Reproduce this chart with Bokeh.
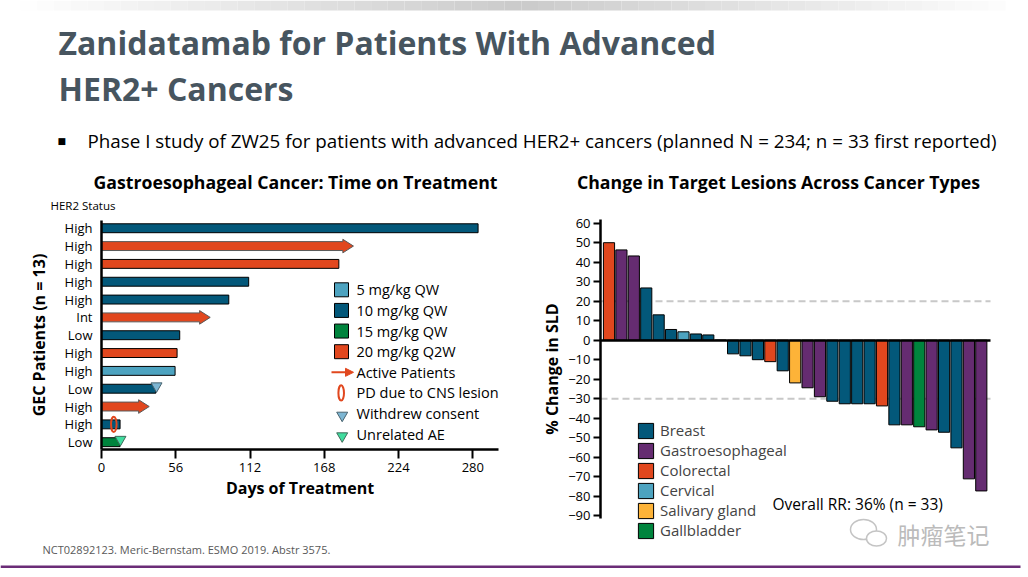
import numpy as np
from bokeh.plotting import figure
from bokeh.models import (Range1d, FixedTicker, Label, Legend, LegendItem,
                          Arrow, NormalHead, ColumnDataSource)
from bokeh.layouts import column, row
from bokeh.embed import file_html
from bokeh.resources import INLINE

FONT = "Open Sans"

# ---------------- data: GEC patients, time on treatment (top -> bottom) ----------------
her2_status = ["High", "High", "High", "High", "High", "Int", "Low",
               "High", "High", "Low", "High", "High", "Low"]
treatment_days = [284, 190, 179, 111, 96, 82, 59, 57, 55.5, 41, 36, 14, 14]
dose_group = ["10 mg/kg QW", "20 mg/kg Q2W", "20 mg/kg Q2W", "10 mg/kg QW", "10 mg/kg QW",
              "20 mg/kg Q2W", "10 mg/kg QW", "20 mg/kg Q2W", "5 mg/kg QW", "10 mg/kg QW",
              "20 mg/kg Q2W", "10 mg/kg QW", "15 mg/kg QW"]
active_patient = [False, True, False, False, False, True, False,
                  False, False, False, True, False, False]
event_kind = ["PD due to CNS lesion", "Withdrew consent", "Unrelated AE"]
event_patient = [11, 9, 12]
event_day = [9.3, 41.5, 14.3]
day_ticks = [0, 56, 112, 168, 224, 280]
dose_levels = ["5 mg/kg QW", "10 mg/kg QW", "15 mg/kg QW", "20 mg/kg Q2W"]

# ---------------- data: change in target lesions (waterfall) ----------------
sld_change = [50, 46.3, 43.2, 26.8, 13, 5.5, 4.3, 3.2, 2.7, 0,
              -7, -8, -10, -11, -15.7, -21.9, -24.4, -29, -31.3, -32.6, -32.6,
              -32.6, -33.7, -43.4, -43.4, -44.4, -46, -47.2, -55.2, -71.1, -77.3]
cancer_type = ["Colorectal", "Gastroesophageal", "Gastroesophageal", "Breast", "Breast",
               "Breast", "Cervical", "Breast", "Breast", "Breast",
               "Breast", "Breast", "Breast", "Colorectal", "Breast", "Salivary gland",
               "Gastroesophageal", "Gastroesophageal", "Breast", "Breast", "Breast",
               "Breast", "Colorectal", "Breast", "Gastroesophageal", "Gallbladder",
               "Gastroesophageal", "Breast", "Breast", "Gastroesophageal", "Gastroesophageal"]
cancer_types = ["Breast", "Gastroesophageal", "Colorectal", "Cervical", "Salivary gland", "Gallbladder"]
sld_ticks = list(range(-90, 61, 10))
sld_ref_levels = [20, -30]

# ---------------- styles ----------------
TEAL, PURPLE, ORANGE = "#03587A", "#652C71", "#E1471E"
LBLUE, YELLOW, GREEN = "#4DA3C0", "#FDB338", "#00843D"
dose_color = {"5 mg/kg QW": LBLUE, "10 mg/kg QW": TEAL, "15 mg/kg QW": GREEN, "20 mg/kg Q2W": ORANGE}
type_color = {"Breast": TEAL, "Gastroesophageal": PURPLE, "Colorectal": ORANGE,
              "Cervical": LBLUE, "Salivary gland": YELLOW, "Gallbladder": GREEN}
event_style = {"Withdrew consent": ("inverted_triangle", "#7DB6D3", "#4A6470"),
               "PD due to CNS lesion": ("ellipse", "none", ORANGE),
               "Unrelated AE": ("inverted_triangle", "#3FDC9E", "#3E6B5A")}
TITLE_COLOR = "#47555F"

# page geometry (pixel positions on the page) -> data mapping helpers
LX0, LPX = 101.0, 1.326     # left chart: pixel of day 0, px per day
LY0, LPY = 441.7, 17.83     # left chart: pixel of bottom row, px per row
RX0, RPX = 608.5, 12.41     # right chart: pixel of first bar, px per bar
RY0, RPY = 339.7, 1.95      # right chart: pixel of 0 %, px per %
TOP, MID, BOT, SPLIT, W = 214, 562, 577, 535, 1028


def lxd(sx): return (sx - LX0) / LPX
def lyd(sy): return (LY0 - sy) / LPY
def rxd(sx): return (sx - RX0) / RPX
def ryd(sy): return (RY0 - sy) / RPY


def lbl(p, x, y, text, size, color="black", style="normal", align="left", font=FONT):
    p.add_layout(Label(x=x, y=y, text=text, text_font=font, text_font_size=size,
                       text_color=color, text_font_style=style, text_align=align,
                       text_baseline="middle"))


def blank(width, height, xr, yr):
    f = figure(width=width, height=height, x_range=xr, y_range=yr, x_axis_type=None,
               y_axis_type=None, output_backend="svg", toolbar_location=None, min_border=0,
               outline_line_color=None)
    f.grid.visible = False
    return f


# ================= header (page pixels) =================
header = blank(W, TOP, Range1d(0, W), Range1d(TOP, 0))
gx = np.linspace(20, 1005, 60)
shade = np.clip(1 - np.abs((gx[:-1] + gx[1:]) / 2 - 520) / 500, 0, 1)
header.quad(left=gx[:-1], right=gx[1:], top=0, bottom=10,
            fill_color=["#%02x%02x%02x" % ((int(255 - 52 * s),) * 3) for s in shade], line_color=None)
lbl(header, 58, 42, "Zanidatamab for Patients With Advanced", "32px", TITLE_COLOR, "bold")
lbl(header, 58, 88, "HER2+ Cancers", "32px", TITLE_COLOR, "bold")
lbl(header, 57, 140, "\u25A0", "9px", "black", font="DejaVu Sans")
lbl(header, 87, 140, "Phase I study of ZW25 for patients with advanced HER2+ cancers "
                     "(planned N = 234; n = 33 first reported)", "18.8px", "black")
lbl(header, 295, 181, "Gastroesophageal Cancer: Time on Treatment", "17.7px", "black", "bold", "center")
lbl(header, 778, 181, "Change in Target Lesions Across Cancer Types", "17.7px", "black", "bold", "center")
lbl(header, 50, 205, "HER2 Status", "11.5px", "black")

# ================= left chart =================
n = len(treatment_days)
ypos = [n - 1 - i for i in range(n)]
lp = figure(width=SPLIT, height=MID - TOP, x_range=Range1d(lxd(0), lxd(SPLIT)),
            y_range=Range1d(lyd(MID), lyd(TOP)), output_backend="svg", toolbar_location=None,
            min_border=0, outline_line_color=None)
lp.grid.visible = False

BAR_H, HEAD_L, HEAD_H = 0.5, 8.0, 0.38
plain = [i for i in range(n) if not active_patient[i]]
lp.hbar(y=[ypos[i] for i in plain], left=0, right=[treatment_days[i] for i in plain], height=BAR_H,
        fill_color=[dose_color[dose_group[i]] for i in plain], line_color="black", line_width=1)
axs, ays, acol = [], [], []
for i in range(n):
    if active_patient[i]:
        d, y = treatment_days[i], ypos[i]
        be = d - HEAD_L
        axs.append([0, be, be, d, be, be, 0])
        ays.append([y - BAR_H / 2, y - BAR_H / 2, y - HEAD_H, y, y + HEAD_H, y + BAR_H / 2, y + BAR_H / 2])
        acol.append(dose_color[dose_group[i]])
lp.patches(axs, ays, fill_color=acol, line_color="#5A5A5A", line_width=1)

for k, ev in enumerate(event_kind):
    mk, fc, lc = event_style[ev]
    ex, ey = event_day[k], ypos[event_patient[k]]
    if mk == "ellipse":
        lp.ellipse(x=[ex], y=[ey], width=4.2, height=0.85, fill_color=None, line_color=lc, line_width=2)
    else:
        lp.scatter(x=[ex], y=[ey + 0.15], marker=mk, size=11, fill_color=fc, line_color=lc, line_width=1)

# axes (drawn at fixed positions inside the canvas)
xa, ya_l = lp.xaxis[0], lp.yaxis[0]
xa.fixed_location = lyd(449.3)
xa.bounds = (0, lxd(498))
ya_l.fixed_location = 0
ya_l.bounds = (lyd(449.3), lyd(220))
xa.ticker = FixedTicker(ticks=day_ticks)
ya_l.ticker = FixedTicker(ticks=list(range(n)))
ya_l.major_label_overrides = {ypos[i]: her2_status[i] for i in range(n)}
for ax in (xa, ya_l):
    ax.axis_line_width = 2.5
    ax.axis_line_color = "black"
    ax.minor_tick_line_color = None
    ax.major_label_text_font = FONT
    ax.major_label_text_font_size = "13px"
    ax.major_label_text_color = "black"
    ax.axis_label_text_font = FONT
    ax.axis_label_text_font_size = "16px"
    ax.axis_label_text_font_style = "bold"
    ax.axis_label_text_color = "black"
xa.major_tick_in = 0
xa.major_tick_out = 9
xa.major_tick_line_width = 2
xa.major_label_standoff = 4
xa.axis_label = "Days of Treatment"
xa.axis_label_standoff = 2
ya_l.major_tick_line_color = None
ya_l.major_tick_in = 0
ya_l.major_tick_out = 0
ya_l.major_label_standoff = 9
ya_l.axis_label = "GEC Patients (n = 13)"
ya_l.axis_label_standoff = 12

lbl(lp, lxd(42), lyd(549), "NCT02892123. Meric-Bernstam. ESMO 2019. Abstr 3575.", "11px", "#595959")

# legend (drawn inside the plot area)
leg_rows = [lyd(289.3 + 20.63 * k) for k in range(8)]
sq_x, txt_x = lxd(341), lxd(356)
lp.scatter(x=[sq_x] * 4, y=leg_rows[:4], marker="square", size=14,
           fill_color=[dose_color[d] for d in dose_levels], line_color="black", line_width=1)
lp.add_layout(Arrow(x_start=lxd(331), y_start=leg_rows[4], x_end=lxd(353), y_end=leg_rows[4],
                    line_color=ORANGE, line_width=2,
                    end=NormalHead(size=8, fill_color=ORANGE, line_color=ORANGE)))
lp.ellipse(x=[lxd(340.7)], y=[leg_rows[5]], width=4.2, height=0.85, fill_color=None,
           line_color=ORANGE, line_width=2)
for k, ev in enumerate(event_kind[1:]):
    mk, fc, lc = event_style[ev]
    lp.scatter(x=[lxd(341.7)], y=[leg_rows[6 + k] - 0.1], marker=mk, size=11,
               fill_color=fc, line_color=lc, line_width=1)
leg_texts = dose_levels + ["Active Patients"] + event_kind
for k, t in enumerate(leg_texts):
    lbl(lp, txt_x, leg_rows[k], t, "14.5px", "black")

# ================= right chart =================
m = len(sld_change)
rp = figure(width=W - SPLIT, height=MID - TOP, x_range=Range1d(rxd(SPLIT), rxd(W)),
            y_range=Range1d(ryd(MID), ryd(TOP)), output_backend="svg", toolbar_location=None,
            min_border=0, outline_line_color=None)
rp.grid.visible = False
x_lo, x_hi = rxd(600), rxd(990)
rp.segment(x0=[x_lo] * len(sld_ref_levels), x1=[x_hi] * len(sld_ref_levels), y0=sld_ref_levels,
           y1=sld_ref_levels, line_color="#C8C8C8", line_width=2, line_dash="7 4")
src = ColumnDataSource(dict(x=list(range(m)), top=sld_change,
                            color=[type_color[t] for t in cancer_type]))
bars = rp.vbar(x="x", top="top", bottom=0, width=0.9, fill_color="color", line_color="black",
               line_width=1, source=src)

xr = rp.xaxis[0]
xr.fixed_location = 0
xr.bounds = (x_lo, x_hi)
xr.ticker = FixedTicker(ticks=[])
xr.axis_line_width = 2.5
xr.axis_line_color = "black"
xr.major_tick_line_color = None
xr.minor_tick_line_color = None
xr.major_label_text_font_size = "0px"

ya = rp.yaxis[0]
ya.fixed_location = x_lo
ya.bounds = (ryd(518), ryd(219))
ya.ticker = FixedTicker(ticks=sld_ticks)
ya.axis_line_width = 2.5
ya.axis_line_color = "black"
ya.major_tick_line_width = 2
ya.major_tick_in = 0
ya.major_tick_out = 7
ya.minor_tick_line_color = None
ya.major_label_standoff = 3
ya.major_label_text_font = FONT
ya.major_label_text_font_size = "13px"
ya.major_label_text_color = "black"
ya.axis_label = "% Change in SLD"
ya.axis_label_text_font = FONT
ya.axis_label_text_font_size = "16px"
ya.axis_label_text_font_style = "bold"
ya.axis_label_text_color = "black"
ya.axis_label_standoff = 2

items = [LegendItem(label=t, renderers=[bars], index=cancer_type.index(t)) for t in cancer_types]
legend = Legend(items=items, location=(636 - SPLIT, MID - 540), glyph_width=19, glyph_height=19,
                label_standoff=5, padding=0, margin=0, spacing=0, label_height=20,
                border_line_alpha=0, background_fill_alpha=0, label_text_font=FONT,
                label_text_font_size="15px")
rp.add_layout(legend)

lbl(rp, rxd(772), ryd(503), "Overall RR: 36% (n = 33)", "15.5px", "black")
# watermark
rp.ellipse(x=[rxd(863), rxd(876)], y=[ryd(529), ryd(538)], width=[26 / RPX, 20 / RPX],
           height=[20 / RPY, 15 / RPY], fill_color="white", line_color="#C4C4C4", line_width=1.5)
lbl(rp, rxd(897), ryd(533), "\u80bf\u7624\u7b14\u8bb0", "23px", "#BBBBBB", font="Noto Sans CJK SC")

# ================= footer strip =================
strip = blank(W, BOT - MID, Range1d(0, W), Range1d(BOT - MID, 0))
strip.quad(left=[0], right=[1020], top=[3], bottom=[5.5], fill_color="#6B2C77", line_color=None)

layout = column(header, row(lp, rp), strip)
open("out.html", "w").write(file_html(layout, INLINE))
